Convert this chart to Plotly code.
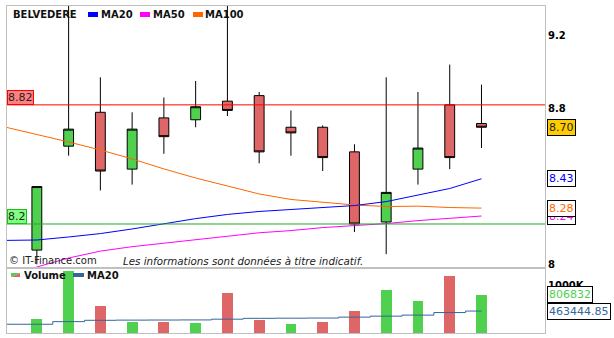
import math
import plotly.graph_objects as go

# ---- daily sessions (index 0 = first session shown) ----
days = list(range(15))
open_ = [8.07, 8.60, 8.78, 8.48, 8.75, 8.74, 8.84, 8.87, 8.70, 8.70, 8.57, 8.21, 8.48, 8.82, 8.72]
high = [8.39, 9.45, 8.97, 8.78, 8.86, 8.95, 9.42, 8.89, 8.79, 8.71, 8.61, 8.97, 8.89, 9.04, 8.93]
low = [8.00, 8.55, 8.37, 8.40, 8.56, 8.70, 8.76, 8.51, 8.55, 8.47, 8.16, 8.05, 8.40, 8.48, 8.59]
close = [8.39, 8.69, 8.47, 8.69, 8.65, 8.81, 8.79, 8.57, 8.67, 8.54, 8.20, 8.36, 8.59, 8.54, 8.70]
volume = [296500, 1301800, 572300, 233900, 235600, 211800, 849200, 276100,
          190700, 234800, 466500, 912600, 679400, 1209800, 806832]

# moving averages start one session earlier (index -1)
ma_days = list(range(-1, 15))
ma20 = [8.118, 8.120, 8.135, 8.152, 8.175, 8.200, 8.227, 8.248, 8.263,
        8.273, 8.284, 8.293, 8.313, 8.347, 8.380, 8.43]
ma50 = [7.93, 7.987, 8.031, 8.065, 8.087, 8.105, 8.122, 8.140, 8.156,
        8.167, 8.182, 8.192, 8.202, 8.217, 8.227, 8.24]
ma100 = [8.701, 8.662, 8.622, 8.580, 8.533, 8.481, 8.434, 8.393, 8.352,
         8.324, 8.311, 8.296, 8.288, 8.290, 8.283, 8.28]
vol_ma20 = [184700, 184700, 240000, 268000, 272000, 274000, 276000, 292000,
            310000, 313000, 316000, 335000, 356000, 378000, 432000, 463444.85]

resistance = 8.82
support = 8.2

price_ticks = [8, 8.8, 9.2]
price_tick_text = ["8", "8.8", "9.2"]
vol_ticks = [1000000]
vol_tick_text = ["1000K"]

GREEN = "#4fd04f"
RED = "#df6666"
W, H = 614, 338
FONT = "DejaVu Sans"


def X(px):
    return px / W


def Y(py):
    return 1 - py / H


vol_colors = [GREEN if i == 0 or close[i] >= close[i - 1] else RED for i in range(len(close))]

fig = go.Figure()

fig.add_trace(go.Candlestick(
    x=days, open=open_, high=high, low=low, close=close,
    increasing=dict(fillcolor=GREEN, line=dict(color="black", width=1)),
    decreasing=dict(fillcolor=RED, line=dict(color="black", width=1)),
    whiskerwidth=0, xaxis="x", yaxis="y", showlegend=False, hoverinfo="skip"))

for vals, col in [(ma100, "#ff6600"), (ma20, "#0000ff"), (ma50, "#ff00ff")]:
    fig.add_trace(go.Scatter(x=ma_days, y=vals, mode="lines",
                             line=dict(color=col, width=1),
                             xaxis="x", yaxis="y", showlegend=False, hoverinfo="skip"))

fig.add_trace(go.Bar(x=days, y=volume, width=0.34, marker=dict(color=vol_colors, line=dict(width=0)),
                     xaxis="x2", yaxis="y2", showlegend=False, hoverinfo="skip"))
fig.add_trace(go.Scatter(x=ma_days, y=vol_ma20, mode="lines", line=dict(color="#33669a", width=1, shape="hvh"),
                         xaxis="x2", yaxis="y2", showlegend=False, hoverinfo="skip"))

x_range = [-0.94, 16.0]
y_lo, y_hi = 7.987, 9.37

axis_common = dict(showgrid=False, zeroline=False, showline=True, mirror=True,
                   linecolor="#c0c0c0", linewidth=1, automargin=False)

fig.update_layout(
    width=W, height=H, autosize=False, margin=dict(l=0, r=0, t=0, b=0, pad=0),
    paper_bgcolor="white", plot_bgcolor="white", showlegend=False,
    boxgap=0.69, boxgroupgap=0,
    bargap=0,
    xaxis=dict(domain=[X(7), X(545)], range=x_range, showticklabels=False, ticks="",
               rangeslider=dict(visible=False), anchor="y", **axis_common),
    yaxis=dict(domain=[Y(267), Y(6)], type="log", range=[math.log10(y_lo), math.log10(y_hi)],
               side="right", anchor="x", tickvals=price_ticks, ticktext=price_tick_text, ticks="",
               tickfont=dict(family=FONT, size=10, color="black", weight="bold"), **axis_common),
    xaxis2=dict(domain=[X(7), X(545)], range=x_range, showticklabels=False, ticks="",
                anchor="y2", **axis_common),
    yaxis2=dict(domain=[Y(333), Y(269)], range=[0, 1352000], side="right", anchor="x2",
                tickvals=vol_ticks, ticktext=vol_tick_text, ticks="",
                tickfont=dict(family=FONT, size=10, color="black", weight="bold"), **axis_common),
)

shapes = []
# support / resistance levels
shapes.append(dict(type="line", xref="paper", yref="y", x0=X(7), x1=X(545), y0=resistance, y1=resistance,
                   line=dict(color="#ff0000", width=1), layer="above"))
shapes.append(dict(type="line", xref="paper", yref="y", x0=X(7), x1=X(545), y0=support, y1=support,
                   line=dict(color="#22aa22", width=1), layer="above"))

# legend swatches
for x0, x1, col in [(88, 98, "#0000ff"), (140, 150, "#ff00ff"), (193, 203, "#ff6600")]:
    shapes.append(dict(type="rect", xref="paper", yref="paper", x0=X(x0), x1=X(x1), y0=Y(17), y1=Y(12),
                       fillcolor=col, line=dict(width=0)))
shapes.append(dict(type="path", xref="paper", yref="paper",
                   path=f"M {X(11)} {Y(277)} L {X(20)} {Y(277)} L {X(20)} {Y(273)} Z",
                   fillcolor=RED, line=dict(width=0)))
shapes.append(dict(type="path", xref="paper", yref="paper",
                   path=f"M {X(11)} {Y(277)} L {X(11)} {Y(273)} L {X(20)} {Y(273)} Z",
                   fillcolor=GREEN, line=dict(width=0)))
shapes.append(dict(type="rect", xref="paper", yref="paper", x0=X(73), x1=X(84), y0=Y(277), y1=Y(273),
                   fillcolor="#33669a", line=dict(width=0)))
fig.update_layout(shapes=shapes)

ann = []


def text(x, y, s, size=10, bold=False, italic=False, color="black"):
    ann.append(dict(xref="paper", yref="paper", x=X(x), y=Y(y), xanchor="left", yanchor="middle",
                    text=s, showarrow=False,
                    font=dict(family=FONT, size=size, color=color,
                              weight="bold" if bold else "normal",
                              style="italic" if italic else "normal")))


text(11, 14.5, "BELVEDERE", bold=True, color="#111111")
text(99, 14.5, "MA20", bold=True, color="#111111")
text(151, 14.5, "MA50", bold=True, color="#111111")
text(203, 14.5, "MA100", bold=True, color="#111111")
text(7, 260.5, "© IT-Finance.com", color="#222222")
text(121, 260.5, "Les informations sont données à titre indicatif.", size=10.3, italic=True, color="#222222")
text(22, 275.5, "Volume", bold=True, color="#111111")
text(85, 275.5, "MA20", bold=True, color="#111111")


def level_box(value, label, fill, border):
    ann.append(dict(xref="paper", yref="y", x=X(7), y=math.log10(value), xanchor="left", yanchor="bottom",
                    text=label, showarrow=False, bgcolor=fill, bordercolor=border, borderwidth=1,
                    borderpad=0, font=dict(family=FONT, size=11, color="#222222")))


level_box(resistance, f"{resistance:.2f}", "#ff8080", "#ff0000")
level_box(support, f"{support:g}", "#80ff80", "#22bb22")


def value_box(value, label, yref, txt_color, fill="white", log=True):
    ann.append(dict(xref="paper", yref=yref, x=X(547), y=math.log10(value) if log else value,
                    xanchor="left", yanchor="middle", text=label, showarrow=False,
                    bgcolor=fill, bordercolor="black", borderwidth=1, borderpad=1,
                    font=dict(family=FONT, size=11, color=txt_color)))


value_box(close[-1], f"{close[-1]:.2f}", "y", "#222222", fill="#ffcc00")
value_box(ma20[-1], f"{ma20[-1]:.2f}", "y", "#0000ff")
value_box(ma50[-1], f"{ma50[-1]:.2f}", "y", "#ff00ff")
value_box(ma100[-1], f"{ma100[-1]:.2f}", "y", "#ff6600")
value_box(vol_ma20[-1], f"{vol_ma20[-1]:.2f}", "y2", "#33669a", log=False)
value_box(volume[-1], f"{volume[-1]}", "y2", GREEN, log=False)

fig.update_layout(annotations=ann)

fig.write_html("out.html")
